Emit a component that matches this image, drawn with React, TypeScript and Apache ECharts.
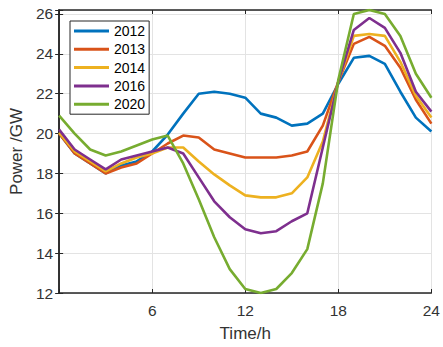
import React, { useEffect, useRef } from "react";
import * as echarts from "echarts";

const hours = [0, 1, 2, 3, 4, 5, 6, 7, 8, 9, 10, 11, 12, 13, 14, 15, 16, 17, 18, 19, 20, 21, 22, 23, 24];
const seriesNames = ["2012", "2013", "2014", "2016", "2020"];
const s2012 = [20.0, 19.0, 18.5, 18.0, 18.4, 18.6, 19.1, 19.95, 21.0, 22.0, 22.1, 22.0, 21.8, 21.0, 20.8, 20.4, 20.5, 21.0, 22.5, 23.8, 23.9, 23.5, 22.1, 20.8, 20.1];
const s2013 = [20.0, 19.0, 18.5, 18.0, 18.3, 18.5, 19.0, 19.5, 19.9, 19.8, 19.2, 19.0, 18.8, 18.8, 18.8, 18.9, 19.1, 20.4, 22.6, 24.5, 24.85, 24.4, 23.3, 21.7, 20.5];
const s2014 = [20.05, 19.1, 18.6, 18.1, 18.5, 18.8, 19.0, 19.3, 19.3, 18.6, 17.95, 17.4, 16.9, 16.8, 16.8, 17.0, 17.8, 19.6, 22.6, 24.9, 25.0, 24.9, 23.6, 21.9, 20.8];
const s2016 = [20.2, 19.2, 18.7, 18.2, 18.7, 18.9, 19.1, 19.3, 19.0, 17.8, 16.6, 15.8, 15.2, 15.0, 15.1, 15.6, 16.0, 19.3, 22.6, 25.2, 25.8, 25.3, 24.05, 22.1, 21.1];
const s2020 = [20.9, 20.0, 19.2, 18.9, 19.1, 19.4, 19.7, 19.9, 18.5, 16.7, 14.8, 13.2, 12.2, 12.0, 12.2, 13.0, 14.2, 17.5, 22.7, 26.0, 26.2, 26.0, 24.9, 23.0, 21.8];
const allValues = [s2012, s2013, s2014, s2016, s2020];
const colors = ["#0072BD", "#D95319", "#EDB120", "#7E2F8E", "#77AC30"];

const xTicks = { min: 0, max: 24, interval: 6 };
const yTicks = { min: 12, max: 26.2, interval: 2 };

export default function App() {
  const ref = useRef<HTMLDivElement>(null);
  useEffect(() => {
    if (!ref.current) return;
    const chart = echarts.init(ref.current, undefined, { renderer: "svg" });
    const axisColor = "#262626";
    const textColor = "#333333";
    const font = "Arial, 'Liberation Sans', sans-serif";
    const evenLabel = (v: number) => (Math.abs(v - Math.round(v)) < 1e-6 && Math.round(v) % 2 === 0 ? String(Math.round(v)) : "");
    chart.setOption({
      animation: false,
      backgroundColor: "#ffffff",
      grid: { left: 58.5, right: 7.5, top: 10, bottom: 50 },
      legend: {
        orient: "vertical",
        left: 70,
        top: 21,
        itemWidth: 35,
        itemHeight: 14,
        itemGap: 4.3,
        icon: "path://M0,0 L35,0 L35,3 L0,3 Z",
        padding: [3, 4, 3, 4],
        backgroundColor: "#ffffff",
        borderColor: "#262626",
        borderWidth: 1,
        borderRadius: 0,
        data: seriesNames,
        textStyle: { fontFamily: font, fontSize: 14, color: "#000", lineHeight: 14 },
      },
      xAxis: [
        {
          type: "value",
          min: xTicks.min,
          max: xTicks.max,
          interval: xTicks.interval,
          name: "Time/h",
          nameLocation: "middle",
          nameGap: 32,
          nameTextStyle: { fontFamily: font, fontSize: 17, color: textColor },
          axisLine: { show: true, lineStyle: { color: axisColor, width: 1.5 } },
          axisTick: { show: true, inside: true, length: 4, lineStyle: { color: axisColor } },
          axisLabel: {
            fontFamily: font,
            fontSize: 15.5,
            color: textColor,
            margin: 9,
            formatter: (v: number) => (v === 0 ? "" : String(v)),
          },
          splitLine: { show: true, lineStyle: { color: "#e3e3e3", width: 1 } },
        },
        {
          type: "value",
          position: "top",
          min: xTicks.min,
          max: xTicks.max,
          interval: xTicks.interval,
          axisLine: { show: true, lineStyle: { color: axisColor, width: 1.5 } },
          axisTick: { show: true, inside: true, length: 4, lineStyle: { color: axisColor } },
          axisLabel: { show: false },
          splitLine: { show: false },
        },
      ],
      yAxis: [
        {
          type: "value",
          min: yTicks.min,
          max: yTicks.max,
          interval: yTicks.interval,
          name: "Power /GW",
          nameLocation: "middle",
          nameGap: 25,
          nameTextStyle: { fontFamily: font, fontSize: 17, color: textColor },
          axisLine: { show: true, lineStyle: { color: axisColor, width: 1.5 } },
          axisTick: { show: true, inside: true, length: 4, lineStyle: { color: axisColor } },
          axisLabel: { fontFamily: font, fontSize: 15.5, color: textColor, margin: 6, formatter: evenLabel },
          splitLine: { show: true, lineStyle: { color: "#e3e3e3", width: 1 } },
        },
        {
          type: "value",
          position: "right",
          min: yTicks.min,
          max: yTicks.max,
          interval: yTicks.interval,
          axisLine: { show: true, lineStyle: { color: axisColor, width: 1.5 } },
          axisTick: { show: true, inside: true, length: 4, lineStyle: { color: axisColor } },
          axisLabel: { show: false },
          splitLine: { show: false },
        },
      ],
      series: seriesNames.map((name, i) => ({
        name,
        type: "line",
        xAxisIndex: 0,
        yAxisIndex: 0,
        data: hours.map((h, j) => [h, allValues[i][j]]),
        symbol: "none",
        showSymbol: false,
        color: colors[i],
        lineStyle: { color: colors[i], width: 2.6 },
        z: 2 + i,
      })),
    });
    return () => chart.dispose();
  }, []);
  return <div ref={ref} style={{ width: 443, height: 347, position: "absolute", left: 0, top: 0 }} />;
}
